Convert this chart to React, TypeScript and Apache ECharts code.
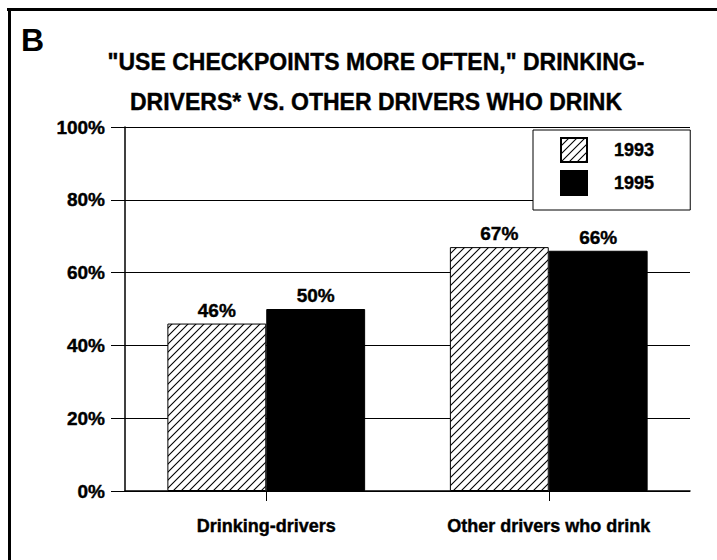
import React, { useEffect, useRef } from "react";
import * as echarts from "echarts";

const categories = ["Drinking-drivers", "Other drivers who drink"];
const seriesNames = ["1993", "1995"];
const values1993 = [46, 67];
const values1995 = [50, 66];
const yTicks = [0, 20, 40, 60, 80, 100];
const titleLines = ['"USE CHECKPOINTS MORE OFTEN," DRINKING-', "DRIVERS* VS. OTHER DRIVERS WHO DRINK"];
const panelLetter = "B";

const FONT = "'Liberation Sans', Arial, sans-serif";

function makeHatch(): HTMLCanvasElement {
  const c = document.createElement("canvas");
  c.width = 8;
  c.height = 8;
  const ctx = c.getContext("2d")!;
  ctx.fillStyle = "#fff";
  ctx.fillRect(0, 0, 8, 8);
  ctx.strokeStyle = "#000";
  ctx.lineWidth = 1.1;
  ctx.beginPath();
  ctx.moveTo(0, 8);
  ctx.lineTo(8, 0);
  ctx.moveTo(-1, 1);
  ctx.lineTo(1, -1);
  ctx.moveTo(7, 9);
  ctx.lineTo(9, 7);
  ctx.stroke();
  return c;
}

export default function App() {
  const ref = useRef<HTMLDivElement>(null);
  useEffect(() => {
    if (!ref.current) return;
    const chart = echarts.init(ref.current, undefined, { renderer: "svg" });
    const hatch = makeHatch();
    const heavy = { textBorderColor: "#000", textBorderWidth: 0.4 };
    const labelStyle = {
      show: true,
      position: "top",
      distance: 4,
      color: "#000",
      fontFamily: FONT,
      fontWeight: "bold",
      fontSize: 19,
      formatter: "{c}%",
      ...heavy,
    };
    chart.setOption({
      animation: false,
      backgroundColor: "#fff",
      title: {
        text: titleLines.join("\n"),
        left: 371,
        textAlign: "center",
        top: 37,
        textStyle: {
          fontFamily: FONT,
          fontWeight: "bold",
          fontSize: 23,
          lineHeight: 40,
          color: "#000",
          ...heavy,
        },
      },
      graphic: [
        {
          type: "line",
          shape: { x1: 7, y1: 9.5, x2: 717, y2: 9.5 },
          style: { stroke: "#000", lineWidth: 3 },
        },
        {
          type: "line",
          shape: { x1: 9.5, y1: 8, x2: 9.5, y2: 560 },
          style: { stroke: "#000", lineWidth: 3 },
        },
        {
          type: "text",
          left: 21,
          top: 24,
          style: {
            text: panelLetter,
            fontFamily: FONT,
            fontWeight: "bold",
            fontSize: 32,
            fill: "#000",
          },
        },
      ],
      legend: {
        orient: "vertical",
        left: 533,
        top: 130,
        data: seriesNames,
        icon: "rect",
        itemWidth: 26,
        itemHeight: 24,
        itemGap: 7,
        padding: [7, 36, 14, 27],
        borderColor: "#000",
        borderWidth: 1,
        backgroundColor: "#fff",
        selectedMode: false,
        textStyle: {
          fontFamily: FONT,
          fontWeight: "bold",
          fontSize: 18,
          color: "#000",
          padding: [0, 0, 0, 22],
          ...heavy,
        },
      },
      grid: { left: 125, right: 27, top: 127, bottom: 69 },
      xAxis: {
        type: "category",
        data: categories,
        axisLine: { show: true, lineStyle: { color: "#000", width: 1.5 } },
        axisTick: { show: true, alignWithLabel: true, length: 10, lineStyle: { color: "#000" } },
        axisLabel: {
          margin: 26,
          color: "#000",
          fontFamily: FONT,
          fontWeight: "bold",
          fontSize: 18,
          ...heavy,
        },
      },
      yAxis: {
        type: "value",
        min: yTicks[0],
        max: yTicks[yTicks.length - 1],
        interval: 20,
        axisLine: { show: true, lineStyle: { color: "#000", width: 1.5 } },
        axisTick: { show: true, length: 14, lineStyle: { color: "#000" } },
        splitLine: { show: true, lineStyle: { color: "#000", width: 1 } },
        axisLabel: {
          formatter: "{value}%",
          margin: 20,
          color: "#000",
          fontFamily: FONT,
          fontWeight: "bold",
          fontSize: 19,
          ...heavy,
        },
      },
      series: [
        {
          name: seriesNames[0],
          type: "bar",
          data: values1993,
          barGap: "0%",
          barCategoryGap: "30%",
          itemStyle: {
            color: { image: hatch, repeat: "repeat" },
            borderColor: "#000",
            borderWidth: 1,
          },
          label: labelStyle,
        },
        {
          name: seriesNames[1],
          type: "bar",
          data: values1995,
          barGap: "0%",
          barCategoryGap: "30%",
          itemStyle: { color: "#000", borderColor: "#000", borderWidth: 1 },
          label: labelStyle,
        },
      ],
    });
    return () => chart.dispose();
  }, []);
  return (
    <div
      ref={ref}
      style={{ position: "absolute", left: 0, top: 0, width: 717, height: 560 }}
    />
  );
}
